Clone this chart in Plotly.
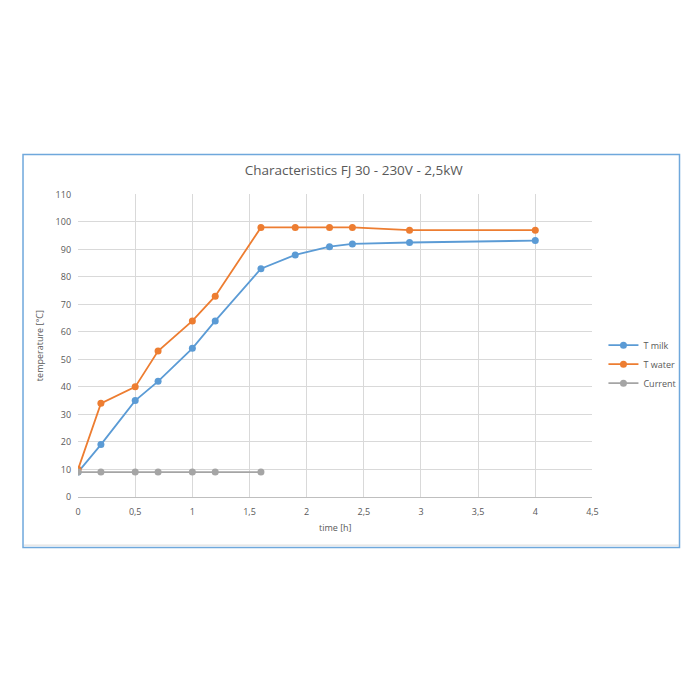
import plotly.graph_objects as go

# data
tempo = [0, 0.2, 0.5, 0.7, 1, 1.2, 1.6, 1.9, 2.2, 2.4, 2.9, 4]
t_milk = [9, 19, 35, 42, 54, 64, 83, 88, 91, 92, 92.5, 93.2]
t_water = [10, 34, 40, 53, 64, 73, 98, 98, 98, 98, 97, 97]
tempo_current = [0, 0.2, 0.5, 0.7, 1, 1.2, 1.6]
current = [9, 9, 9, 9, 9, 9, 9]

cinza = '#595959'

TAM = 700
ESC = 0.9864  # escala observada na captura


def px_x(p):
    return ((p - 11) / ESC) / TAM


def px_y(p):
    return 1 - ((p - 12.7) / ESC) / TAM


fig = go.Figure()

fig.add_trace(go.Scatter(x=tempo, y=t_milk, name='T milk', mode='lines+markers',
                         line=dict(color='#5B9BD5', width=1.8),
                         marker=dict(size=7, color='#5B9BD5')))
fig.add_trace(go.Scatter(x=tempo, y=t_water, name='T water', mode='lines+markers',
                         line=dict(color='#ED7D31', width=1.8),
                         marker=dict(size=7, color='#ED7D31')))
fig.add_trace(go.Scatter(x=tempo_current, y=current, name='Current', mode='lines+markers',
                         line=dict(color='#A5A5A5', width=1.8),
                         marker=dict(size=7, color='#A5A5A5')))

fig.update_layout(
    width=TAM, height=TAM,
    paper_bgcolor='white', plot_bgcolor='white',
    margin=dict(l=0, r=0, t=0, b=0),
    separators=', ',
    font=dict(family='Open Sans, Arial', color=cinza, size=9),
    title=dict(text='Characteristics FJ 30 - 230V - 2,5kW', x=px_x(352), y=px_y(173),
               xanchor='center', yanchor='middle',
               font=dict(size=13.5, color=cinza)),
    showlegend=True,
    legend=dict(x=px_x(603), y=px_y(330), xanchor='left', yanchor='top',
                font=dict(size=9, color=cinza), tracegroupgap=0,
                bgcolor='rgba(0,0,0,0)'),
)

fig.update_xaxes(domain=[px_x(78), px_x(592)], range=[0, 4.5], dtick=0.5, tick0=0,
                 showgrid=True, gridcolor='#D9D9D9', gridwidth=1,
                 showline=True, linecolor='#BFBFBF', zeroline=False,
                 ticks='', ticklabelstandoff=6,
                 title=dict(text='time [h]', font=dict(size=9, color=cinza), standoff=8))
fig.update_yaxes(domain=[px_y(497), px_y(193)], range=[0, 110], dtick=10,
                 showgrid=True, gridcolor='#D9D9D9', gridwidth=1,
                 showline=False, zeroline=False, ticks='', ticklabelstandoff=6,
                 title=dict(text='temperature [°C]', font=dict(size=9, color=cinza), standoff=10))

# sombra cinza logo acima da borda de baixo
fig.add_shape(type='line', xref='paper', yref='paper',
              x0=px_x(24), x1=px_x(678), y0=px_y(545.5), y1=px_y(545.5),
              line=dict(color='#DADADA', width=1), layer='below')
# moldura azul do gráfico
fig.add_shape(type='rect', xref='paper', yref='paper',
              x0=px_x(23), x1=px_x(679), y0=px_y(548), y1=px_y(153),
              line=dict(color='#6FA8DC', width=1.5), fillcolor='rgba(0,0,0,0)', layer='below')

fig.write_html('out.html')
